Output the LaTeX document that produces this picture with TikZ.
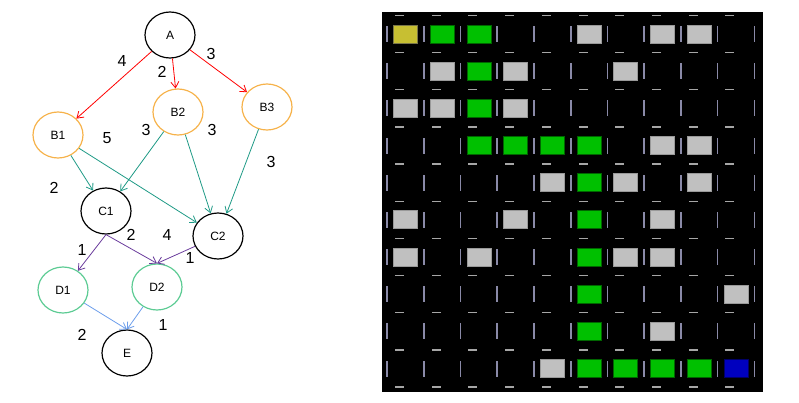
\documentclass[tikz,border=0pt]{standalone}
\usepackage{fontspec}
\setmainfont{Liberation Sans}
\usetikzlibrary{arrows.meta, shapes.geometric}
\tikzset{
  vert/.style={draw, ellipse, line width=1.2pt, minimum width=50pt, minimum height=46pt, inner sep=0pt, font=\fontsize{12}{12}\selectfont},
  wt/.style={font=\fontsize{16}{16}\selectfont},
  edge/.style={-{Straight Barb[length=6pt, width=8pt]}, line width=0.8pt},
  cellbox/.style={line width=0.8pt},
}
\definecolor{ora}{HTML}{F6B24A}
\definecolor{grn}{HTML}{5CCB93}
\definecolor{tea}{HTML}{1F9A86}
\definecolor{pur}{HTML}{6A3C9C}
\definecolor{blu}{HTML}{6D9EEB}
\definecolor{cgray}{HTML}{C0C0C0}
\definecolor{cgreen}{HTML}{00C000}
\begin{document}
\begin{tikzpicture}[x=1pt, y=-1pt]
  \useasboundingbox (0,0) rectangle (799,402);

  \node[vert] (A) at (170,35) {A};
  \node[vert, draw=ora] (B1) at (58,135) {B1};
  \node[vert, draw=ora] (B2) at (178,112) {B2};
  \node[vert, draw=ora] (B3) at (267,107) {B3};
  \node[vert] (C1) at (106,211) {C1};
  \node[vert] (C2) at (218,236) {C2};
  \node[vert, draw=grn] (D1) at (63,290) {D1};
  \node[vert, draw=grn] (D2) at (157,287) {D2};
  \node[vert] (E) at (127,353) {E};

  \draw[edge, red] (A) -- (B1);
  \draw[edge, red] (A) -- (B2);
  \draw[edge, red] (A) -- (B3);
  \draw[edge, tea] (B1) -- (C1);
  \draw[edge, tea] (B1) -- (C2);
  \draw[edge, tea] (B2) -- (C1);
  \draw[edge, tea] (B2) -- (C2);
  \draw[edge, tea] (B3) -- (C2);
  \draw[edge, pur] (C1.south) -- (D1);
  \draw[edge, pur] (C1.south) -- (D2.north);
  \draw[edge, pur] (C2) -- (D2.north);
  \draw[edge, blu] (D1) -- (E.north);
  \draw[edge, blu] (D2) -- (E.north);

  \node[wt] (w1) at (122,61) {4};
  \node[wt] (w2) at (162,72) {2};
  \node[wt] (w3) at (211,54) {3};
  \node[wt] (w4) at (107,138) {5};
  \node[wt] (w5) at (146,130) {3};
  \node[wt] (w6) at (212,130) {3};
  \node[wt] (w7) at (271,162) {3};
  \node[wt] (w8) at (54,188) {2};
  \node[wt] (w9) at (82,250) {1};
  \node[wt] (w10) at (131,235) {2};
  \node[wt] (w11) at (167,235) {4};
  \node[wt] (w12) at (190,258) {1};
  \node[wt] (w13) at (82,335) {2};
  \node[wt] (w14) at (163,325) {1};

  % grid
  \fill[black] (382,12) rectangle (763,392);
  \foreach \c in {0,...,9}
    \foreach \r in {0,...,9}
      \fill[gray!70] ({405.5+36.72*\c-6-4.5},{34+37.17*\r-18.6-0.7}) rectangle +(9,1.4);
  \foreach \c in {0,...,9}
    \fill[gray!70] ({405.5+36.72*\c-6-4.5},{34+37.17*9+18.6-0.7}) rectangle +(9,1.4);
  \foreach \c in {0,...,10}
    \foreach \r in {0,...,9}
      \fill[blue!15!gray!80] ({405.5+36.72*\c-18.4-0.8},{34+37.17*\r-8}) rectangle +(1.6,16);
  \foreach \c/\r in {5/0,7/0,8/0,1/1,3/1,6/1,0/2,1/2,3/2,7/3,8/3,4/4,6/4,8/4,0/5,3/5,7/5,0/6,2/6,6/6,7/6,9/7,7/8,4/9}
    \filldraw[cellbox, fill=cgray, draw=gray!80] ({405.5+36.72*\c-12},{34+37.17*\r-9}) rectangle +(24,18);
  \foreach \c/\r in {1/0,2/0,2/1,2/2,2/3,3/3,4/3,5/3,5/4,5/5,5/6,5/7,5/8,5/9,6/9,7/9,8/9}
    \filldraw[cellbox, fill=cgreen, draw=green!40!black] ({405.5+36.72*\c-12},{34+37.17*\r-9}) rectangle +(24,18);
  \filldraw[cellbox, fill=yellow!75!black, draw=yellow!40!black] ({405.5-12},{34-9}) rectangle +(24,18);
  \filldraw[cellbox, fill=blue!75!black, draw=blue!40!black] ({405.5+36.72*9-12},{34+37.17*9-9}) rectangle +(24,18);
\end{tikzpicture}
\end{document}
